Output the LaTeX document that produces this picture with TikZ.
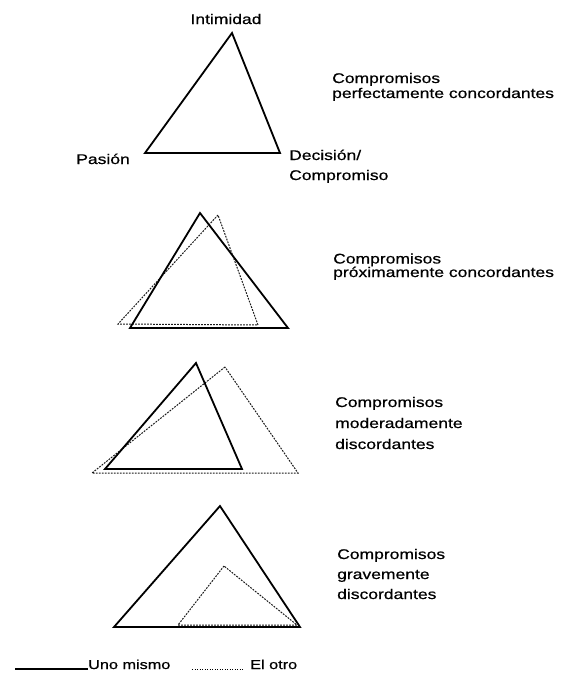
\documentclass[tikz,border=0pt]{standalone}
\usepackage{fontspec}
\setmainfont{Liberation Sans}[FakeStretch=1.25,FakeBold=0.6]
\usetikzlibrary{positioning}

\begin{document}
\begin{tikzpicture}[x=1pt,y=-1pt,
  font=\fontsize{14}{15}\selectfont,
  uno/.style ={line width=1.8pt,line join=miter},
  otro/.style={line width=1pt,black!90,dash pattern=on 1.8pt off 1.2pt},
  lbl/.style ={inner sep=0pt,align=left,anchor=base west}]
\useasboundingbox (0,0) rectangle (565,675);

% ---------- vertices ----------
\coordinate (a1) at (232,33);  \coordinate (b1) at (145,153); \coordinate (c1) at (280,153);
\coordinate (a2) at (200,213); \coordinate (b2) at (130,328); \coordinate (c2) at (288,328);
\coordinate (p2) at (218,215); \coordinate (q2) at (118,324); \coordinate (r2) at (258,325);
\coordinate (a3) at (196,363); \coordinate (b3) at (105,469); \coordinate (c3) at (242,469);
\coordinate (p3) at (225,367); \coordinate (q3) at (92,473);  \coordinate (r3) at (298,473);
\coordinate (a4) at (220,506); \coordinate (b4) at (114,627); \coordinate (c4) at (300,627);
\coordinate (p4) at (224,566); \coordinate (q4) at (178,625); \coordinate (r4) at (297,625);

% ---------- triangles ----------
\draw[uno] (a1)--(b1)--(c1)--cycle;
\draw[otro] (p2)--(q2)--(r2)--cycle;
\draw[uno] (a2)--(b2)--(c2)--cycle;
\draw[otro] (p3)--(q3)--(r3)--cycle;
\draw[uno] (a3)--(b3)--(c3)--cycle;
\draw[otro] (p4)--(q4)--(r4)--cycle;
\draw[uno] (a4)--(b4)--(c4)--cycle;

% ---------- vertex labels ----------
\node[lbl,anchor=base] (intim) at (226,24) {Intimidad};
\node[lbl,anchor=base east] (pasion) at (130,164) {Pasión};
\node[lbl,font=\fontsize{14}{20}\selectfont] (decis) at (289,180) {Decisión/\\Compromiso};

% ---------- case labels ----------
\node[lbl] (k1) at (332,98)  {Compromisos\\perfectamente concordantes};
\node[lbl,font=\fontsize{14}{13.5}\selectfont] (k2) at (333,277) {Compromisos\\próximamente concordantes};
\node[lbl,font=\fontsize{14}{21}\selectfont] (k3) at (335,449) {Compromisos\\moderadamente\\discordantes};
\node[lbl,font=\fontsize{14}{20}\selectfont] (k4) at (337,599) {Compromisos\\gravemente\\discordantes};

% ---------- legend ----------
\node[lbl,font=\fontsize{13}{15}\selectfont] (leg1) at (88,669) {Uno mismo};
\node[lbl,font=\fontsize{13}{15}\selectfont] (leg2) at (250,669) {El otro};
\coordinate[left=73pt of leg1.base west] (s1);
\coordinate[left=58pt of leg2.base west] (s2);
\draw[line width=1.2pt] (s1) -- (leg1.base west);
\draw[line width=0.8pt,dash pattern=on 1pt off 1.5pt] (s2) -- ([xshift=-6pt]leg2.base west);

\end{tikzpicture}
\end{document}
